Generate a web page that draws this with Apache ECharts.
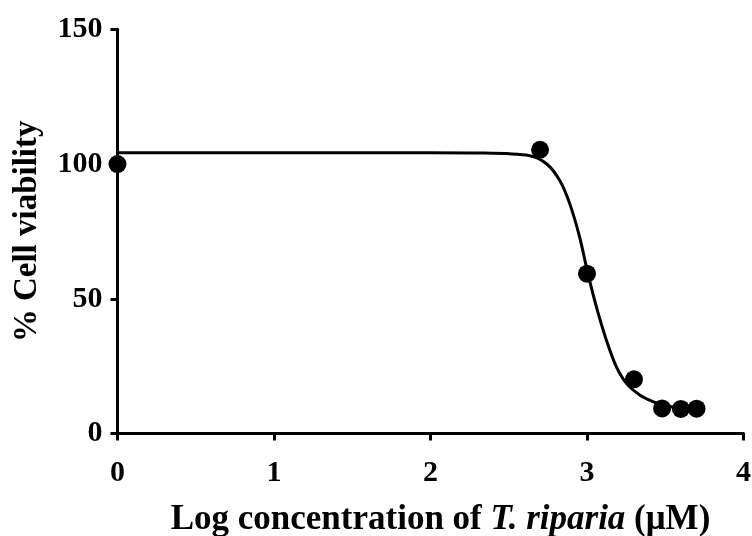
<!DOCTYPE html>
<html><head><meta charset="utf-8">
<script src="https://cdn.jsdelivr.net/npm/echarts@6/dist/echarts.min.js"></script>
<style>html,body{margin:0;padding:0;background:#fff}#c{width:752px;height:536px}</style>
</head><body><div id="c"></div>
<script>
// Measured data points (log concentration, % viability)
const pointX = [0, 2.70, 3.00, 3.30, 3.48, 3.60, 3.70];
const pointY = [100, 105.3, 59.3, 20.1, 9.3, 9.1, 9.2];
// Fitted curve
const curveX = [0, 1, 2, 2.315, 2.634, 2.741, 2.826, 2.889, 2.953, 3.006, 3.060, 3.124, 3.188, 3.252, 3.337, 3.421, 3.507, 3.60, 3.70];
const curveY = [104.2, 104.2, 104.2, 104.1, 103.1, 100.1, 93.9, 85.4, 72.9, 59.3, 47.0, 34.6, 24.7, 18.6, 14.3, 11.8, 10.2, 9.6, 9.3];
const xTicks = [0, 1, 2, 3, 4];
const yTicks = [0, 50, 100, 150];

const font = '"Liberation Serif","Times New Roman",serif';
const chart = echarts.init(document.getElementById('c'), null, {renderer: 'canvas'});
const axisCommon = {
  axisLine: {show: true, lineStyle: {color: '#000', width: 3}},
  axisTick: {show: true, inside: false, length: 7, lineStyle: {color: '#000', width: 3}},
  splitLine: {show: false},
  axisLabel: {color: '#000', fontFamily: font, fontWeight: 'bold', fontSize: 30}
};
chart.setOption({
  animation: false,
  backgroundColor: '#fff',
  grid: {left: 117.5, right: 8.5, top: 29.3, bottom: 102.5, containLabel: false, outerBoundsMode: 'none'},
  xAxis: Object.assign({}, axisCommon, {
    type: 'value', min: xTicks[0], max: xTicks[xTicks.length - 1], interval: 1,
    axisLabel: Object.assign({}, axisCommon.axisLabel, {margin: 25}),
    name: '{a|Log concentration of }{b|T. riparia}{a| (μM)}',
    nameLocation: 'middle', nameGap: 69,
    nameTextStyle: {
      padding: [0, 0, 0, 20],
      rich: {
        a: {fontFamily: font, fontWeight: 'bold', fontSize: 35, color: '#000'},
        b: {fontFamily: font, fontWeight: 'bold', fontStyle: 'italic', fontSize: 35, color: '#000'}
      }
    }
  }),
  yAxis: Object.assign({}, axisCommon, {
    type: 'value', min: yTicks[0], max: yTicks[yTicks.length - 1], interval: 50,
    axisLabel: Object.assign({}, axisCommon.axisLabel, {margin: 15}),
    name: '% Cell viability', nameLocation: 'middle', nameGap: 74, nameRotate: 90,
    nameTextStyle: {fontFamily: font, fontWeight: 'bold', fontSize: 33, color: '#000'}
  }),
  series: [
    {
      type: 'line', data: curveX.map((x, i) => [x, curveY[i]]), smooth: 0.3,
      showSymbol: false, symbol: 'none', lineStyle: {color: '#000', width: 3}, z: 2, clip: false
    },
    {
      type: 'scatter', data: pointX.map((x, i) => [x, pointY[i]]),
      symbol: 'circle', symbolSize: 18, itemStyle: {color: '#000', opacity: 1}, z: 3, clip: false
    }
  ]
});
</script></body></html>
